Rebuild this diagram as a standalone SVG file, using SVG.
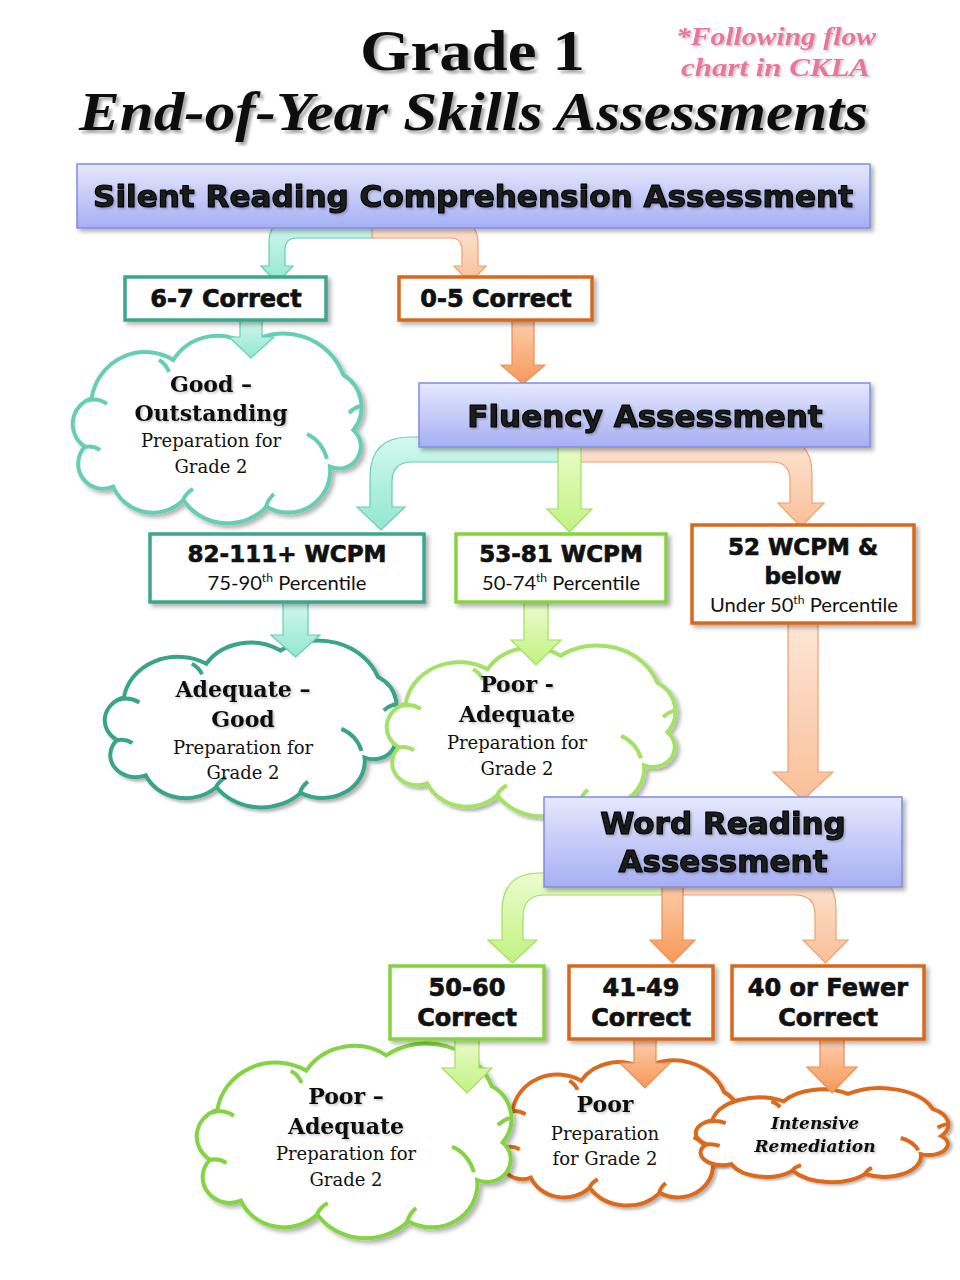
<svg xmlns="http://www.w3.org/2000/svg" xmlns:xlink="http://www.w3.org/1999/xlink" width="960" height="1280" viewBox="0 0 960 1280">
<defs>
  <filter id="shadow" x="-10%" y="-10%" width="130%" height="140%">
    <feDropShadow dx="3" dy="3" stdDeviation="2" flood-color="#000" flood-opacity="0.3"/>
  </filter>
  <filter id="tshadow" x="-5%" y="-20%" width="115%" height="150%">
    <feDropShadow dx="3" dy="3" stdDeviation="1.5" flood-color="#000" flood-opacity="0.35"/>
  </filter>
  <filter id="tsoft" x="-5%" y="-20%" width="115%" height="150%">
    <feDropShadow dx="1.5" dy="1.5" stdDeviation="1" flood-color="#000" flood-opacity="0.25"/>
  </filter>
  <linearGradient id="gBlue" x1="0" y1="0" x2="0" y2="1">
    <stop offset="0" stop-color="#e6e8fd"/>
    <stop offset="1" stop-color="#a6aff3"/>
  </linearGradient>
  <linearGradient id="gTeal" x1="0" y1="0" x2="0" y2="1">
    <stop offset="0" stop-color="#d4f8ef"/>
    <stop offset="1" stop-color="#92e7d0"/>
  </linearGradient>
  <linearGradient id="gGreen" x1="0" y1="0" x2="0" y2="1">
    <stop offset="0" stop-color="#ecfccf"/>
    <stop offset="1" stop-color="#c2f280"/>
  </linearGradient>
  <linearGradient id="gOrL" x1="0" y1="0" x2="0" y2="1">
    <stop offset="0" stop-color="#fde6d6"/>
    <stop offset="1" stop-color="#f9bf98"/>
  </linearGradient>
  <linearGradient id="gOr" x1="0" y1="0" x2="0" y2="1">
    <stop offset="0" stop-color="#fcd0b2"/>
    <stop offset="1" stop-color="#f79857"/>
  </linearGradient>
  <path id="cloudShape" vector-effect="non-scaling-stroke" d="M18.7 65.3 A54 54 0 0 1 100.3 27 A52 52 0 0 1 173.7 12 A64 64 0 0 1 270.3 42 A37 37 0 0 1 280.3 97 A22 22 0 0 1 257 133.7 A42 42 0 0 1 193.7 173.7 A54 54 0 0 1 110.3 167 A43 43 0 0 1 40.3 153.7 A25 25 0 0 1 12 113.7 A27 27 0 0 1 18.7 65.3 Z"/>
  <path id="cloudCrease" vector-effect="non-scaling-stroke" fill="none" d="M86 27 Q93 31 96 39 M234 101 Q249 108 254 126 M276 80 Q281 75 287 73 M14 68 Q24 64 34 71 M12 114 Q20 112 27 117 M110 167 Q113 160 120 156 M193 174 Q195 166 201 161"/>
  <style>
    .title { font-family: "Liberation Serif", "Times New Roman", serif; font-weight: bold; fill: #111; }
    .note { font-family: "Liberation Serif", "Times New Roman", serif; font-weight: bold; font-style: italic; fill: #e8749b; }
    .assess { fill: url(#gBlue); stroke: #7f8ce2; stroke-width: 1.5; }
    .atext { font-family: "DejaVu Sans", "Liberation Sans", sans-serif; font-weight: bold; font-size: 31px; fill: #1a1a1a; stroke: #000; stroke-width: 1.1; stroke-linejoin: round; text-anchor: middle; }
    .box { fill: #fff; stroke-width: 3.5; }
    .btext { font-family: "DejaVu Sans", "Liberation Sans", sans-serif; font-weight: bold; font-size: 24px; fill: #111; stroke: #111; stroke-width: 0.7; text-anchor: middle; }
    .wtext { font-family: "DejaVu Sans", "Liberation Sans", sans-serif; font-weight: bold; font-size: 23px; fill: #111; stroke: #111; stroke-width: 0.7; text-anchor: middle; }
    .pct { font-family: Lato, "Liberation Sans", sans-serif; font-size: 20px; fill: #111; text-anchor: middle; }
    .sup { font-size: 12px; }
    .teal { stroke: #3aa78a; }
    .green { stroke: #84d43e; }
    .orange { stroke: #d8691e; }
    .cloud { fill: #fff; stroke-width: 4; }
    .crease { fill: none; stroke-width: 4; }
    .ch { font-family: "DejaVu Serif", "Liberation Serif", serif; font-weight: bold; font-size: 22px; fill: #111; text-anchor: middle; }
    .cr { font-family: "DejaVu Serif", "Liberation Serif", serif; font-size: 18px; fill: #111; text-anchor: middle; }
    .ci { font-family: "DejaVu Serif", "Liberation Serif", serif; font-weight: bold; font-style: italic; font-size: 17px; fill: #111; text-anchor: middle; }
    .arT { fill: url(#gTeal); stroke: #63cfb3; stroke-width: 1.2; }
    .arG { fill: url(#gGreen); stroke: #9fe05e; stroke-width: 1.2; }
    .arOL { fill: url(#gOrL); stroke: #f1a06b; stroke-width: 1.2; }
    .arO { fill: url(#gOr); stroke: #ef8d4f; stroke-width: 1.2; }
  </style>
</defs>

<rect width="960" height="1280" fill="#fff"/>

<!-- Titles -->
<g id="title">
  <text class="title" x="360" y="70" font-size="58" textLength="225" lengthAdjust="spacingAndGlyphs" filter="url(#tshadow)">Grade 1</text>
  <text class="title" x="79" y="130" font-size="54" font-style="italic" textLength="789" lengthAdjust="spacingAndGlyphs" filter="url(#tshadow)">End-of-Year Skills Assessments</text>
</g>
<g id="note">
  <text class="note" x="676" y="45" font-size="25" textLength="200" lengthAdjust="spacingAndGlyphs" filter="url(#tsoft)">*Following flow</text>
  <text class="note" x="681" y="76" font-size="25" textLength="189" lengthAdjust="spacingAndGlyphs" filter="url(#tsoft)">chart in CKLA</text>
</g>

<!-- Clouds (outcome nodes) -->
<g id="cloud-good-outstanding">
  <g transform="translate(73,333)" filter="url(#shadow)">
    <use href="#cloudShape" class="cloud" stroke="#66ceb3"/>
    <use href="#cloudCrease" class="crease" stroke="#66ceb3"/>
  </g>
  <text class="ch" x="211" y="392" filter="url(#tsoft)">Good –</text>
  <text class="ch" x="211" y="421" filter="url(#tsoft)">Outstanding</text>
  <text class="cr" x="211" y="447">Preparation for</text>
  <text class="cr" x="211" y="473">Grade 2</text>
</g>

<g id="cloud-adequate-good">
  <g transform="translate(105,640) scale(1.01,0.88)" filter="url(#shadow)">
    <use href="#cloudShape" class="cloud" stroke="#39a488"/>
    <use href="#cloudCrease" class="crease" stroke="#39a488"/>
  </g>
  <text class="ch" x="243" y="697" filter="url(#tsoft)">Adequate –</text>
  <text class="ch" x="243" y="727" filter="url(#tsoft)">Good</text>
  <text class="cr" x="243" y="754">Preparation for</text>
  <text class="cr" x="243" y="779">Grade 2</text>
</g>

<g id="cloud-poor-adequate-1">
  <g transform="translate(387,645) scale(1,0.9)" filter="url(#shadow)">
    <use href="#cloudShape" class="cloud" stroke="#a3e266"/>
    <use href="#cloudCrease" class="crease" stroke="#a3e266"/>
  </g>
  <text class="ch" x="517" y="692" filter="url(#tsoft)">Poor -</text>
  <text class="ch" x="517" y="722" filter="url(#tsoft)">Adequate</text>
  <text class="cr" x="517" y="749">Preparation for</text>
  <text class="cr" x="517" y="775">Grade 2</text>
</g>

<g id="cloud-poor">
  <g transform="translate(497,1060) scale(0.84,0.765)" filter="url(#shadow)">
    <use href="#cloudShape" class="cloud" stroke="#dc6a1d"/>
    <use href="#cloudCrease" class="crease" stroke="#dc6a1d"/>
  </g>
  <text class="ch" x="605" y="1112" filter="url(#tsoft)">Poor</text>
  <text class="cr" x="605" y="1140" font-size="19">Preparation</text>
  <text class="cr" x="605" y="1165" font-size="19">for Grade 2</text>
</g>

<g id="cloud-intensive">
  <g transform="translate(696,1088) scale(0.875,0.495)" filter="url(#shadow)">
    <use href="#cloudShape" class="cloud" stroke="#dc6a1d"/>
    <use href="#cloudCrease" class="crease" stroke="#dc6a1d"/>
  </g>
  <text class="ci" x="815" y="1129" filter="url(#tsoft)">Intensive</text>
  <text class="ci" x="815" y="1152" filter="url(#tsoft)">Remediation</text>
</g>

<g id="cloud-poor-adequate-2">
  <g transform="translate(197,1043) scale(1.09,1.026)" filter="url(#shadow)">
    <use href="#cloudShape" class="cloud" stroke="#84d343"/>
    <use href="#cloudCrease" class="crease" stroke="#84d343"/>
  </g>
  <text class="ch" x="346" y="1104" filter="url(#tsoft)">Poor –</text>
  <text class="ch" x="346" y="1134" filter="url(#tsoft)">Adequate</text>
  <text class="cr" x="346" y="1160">Preparation for</text>
  <text class="cr" x="346" y="1186">Grade 2</text>
</g>

<!-- Connectors -->
<g id="connectors">
  <path class="arT" d="M374 221 L290 221 Q269 221 269 242 L269 266 L261 266 L277 283 L293 266 L285 266 L285 250 Q285 238 297 238 L374 238 Z"/>
  <path class="arOL" d="M372 221 L456 221 Q478 221 478 243 L478 266 L486 266 L470 283 L454 266 L462 266 L462 250 Q462 238 450 238 L372 238 Z"/>
  <path class="arT" d="M240 318 L262 318 L262 337 L274 337 L251 358 L229 337 L240 337 Z"/>
  <path class="arO" d="M512 318 L534 318 L534 365 L545 365 L523 384 L501 365 L512 365 Z"/>
  <path class="arT" d="M560 437 L410 437 Q370 437 370 477 L370 507 L357 507 L381 530 L405 507 L392 507 L392 482 Q392 462 412 462 L560 462 Z"/>
  <path class="arOL" d="M580 437 L775 437 Q812 437 812 474 L812 503 L824 503 L801 527 L778 503 L790 503 L790 480 Q790 462 772 462 L580 462 Z"/>
  <path class="arG" d="M558 440 L581 440 L581 509 L592 509 L569.5 532 L547 509 L558 509 Z"/>
  <path class="arT" d="M283 601 L308 601 L308 635 L320 635 L295.5 657 L271 635 L283 635 Z"/>
  <path class="arG" d="M524 601 L548 601 L548 640 L561 640 L536 665 L511 640 L524 640 Z"/>
  <path class="arOL" d="M788 622 L818 622 L818 772 L833 772 L803 800 L773 772 L788 772 Z"/>
  <path class="arG" d="M665 873 L540 873 Q502 873 502 911 L502 940 L488 940 L512.5 963 L537 940 L523 940 L523 917 Q523 895 545 895 L665 895 Z"/>
  <path class="arOL" d="M683 873 L800 873 Q836 873 836 909 L836 940 L848 940 L825.5 963 L803 940 L815 940 L815 915 Q815 895 795 895 L683 895 Z"/>
  <path class="arO" d="M662 880 L683 880 L683 940 L695 940 L672.5 963 L650 940 L662 940 Z"/>
  <path class="arG" d="M455 1038 L479 1038 L479 1068 L492 1068 L467 1093 L442 1068 L455 1068 Z"/>
  <path class="arO" d="M634 1038 L656 1038 L656 1063 L670 1063 L645 1088 L620 1063 L634 1063 Z"/>
  <path class="arO" d="M820 1038 L844 1038 L844 1067 L857 1067 L832 1093 L807 1067 L820 1067 Z"/>
</g>

<!-- Assessment boxes -->
<g id="silent-reading">
  <rect class="assess" x="77" y="164" width="793" height="64" filter="url(#shadow)"/>
  <text class="atext" x="473" y="207" textLength="760" lengthAdjust="spacingAndGlyphs" filter="url(#tsoft)">Silent Reading Comprehension Assessment</text>
</g>
<g id="fluency">
  <rect class="assess" x="419" y="383" width="451" height="64" filter="url(#shadow)"/>
  <text class="atext" x="645" y="427" filter="url(#tsoft)">Fluency Assessment</text>
</g>
<g id="word-reading">
  <rect class="assess" x="544" y="797" width="358" height="90" filter="url(#shadow)"/>
  <text class="atext" x="723" y="834" filter="url(#tsoft)">Word Reading</text>
  <text class="atext" x="723" y="872" filter="url(#tsoft)">Assessment</text>
</g>

<!-- Score boxes -->
<g id="src-6-7">
  <rect class="box teal" x="125" y="277" width="201" height="43" filter="url(#shadow)"/>
  <text class="btext" x="226" y="307">6-7 Correct</text>
</g>
<g id="src-0-5">
  <rect class="box orange" x="399" y="277" width="193" height="43" filter="url(#shadow)"/>
  <text class="btext" x="496" y="307">0-5 Correct</text>
</g>
<g id="flu-82-111">
  <rect class="box teal" x="150" y="534" width="274" height="68" filter="url(#shadow)"/>
  <text class="wtext" x="287" y="562">82-111+ WCPM</text>
  <text class="pct" x="287" y="590" textLength="159" lengthAdjust="spacingAndGlyphs">75-90<tspan class="sup" dy="-8">th</tspan><tspan dy="8"> Percentile</tspan></text>
</g>
<g id="flu-53-81">
  <rect class="box green" x="456" y="534" width="210" height="68" filter="url(#shadow)"/>
  <text class="wtext" x="561" y="562">53-81 WCPM</text>
  <text class="pct" x="561" y="590" textLength="158" lengthAdjust="spacingAndGlyphs">50-74<tspan class="sup" dy="-8">th</tspan><tspan dy="8"> Percentile</tspan></text>
</g>
<g id="flu-52">
  <rect class="box orange" x="692" y="525" width="222" height="98" filter="url(#shadow)"/>
  <text class="wtext" x="803" y="555">52 WCPM &amp;</text>
  <text class="wtext" x="803" y="584">below</text>
  <text class="pct" x="804" y="612" textLength="188" lengthAdjust="spacingAndGlyphs">Under 50<tspan class="sup" dy="-8">th</tspan><tspan dy="8"> Percentile</tspan></text>
</g>
<g id="wr-50-60">
  <rect class="box green" x="390" y="966" width="154" height="73" filter="url(#shadow)"/>
  <text class="btext" x="467" y="996">50-60</text>
  <text class="btext" x="467" y="1026">Correct</text>
</g>
<g id="wr-41-49">
  <rect class="box orange" x="569" y="966" width="144" height="73" filter="url(#shadow)"/>
  <text class="btext" x="641" y="996">41-49</text>
  <text class="btext" x="641" y="1026">Correct</text>
</g>
<g id="wr-40">
  <rect class="box orange" x="732" y="966" width="192" height="73" filter="url(#shadow)"/>
  <text class="btext" x="828" y="996">40 or Fewer</text>
  <text class="btext" x="828" y="1026">Correct</text>
</g>
</svg>
